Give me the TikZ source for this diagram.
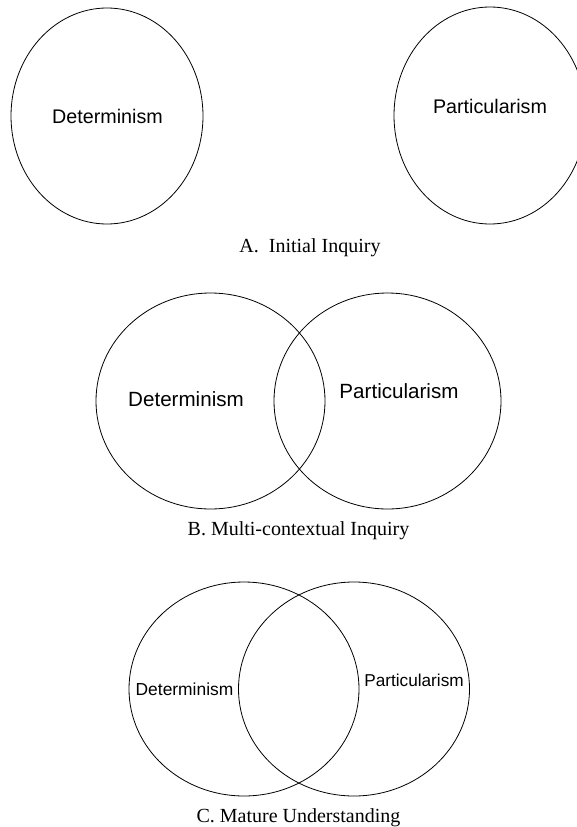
\documentclass[tikz,border=0pt]{standalone}
\usepackage{fontspec}
\setmainfont{Liberation Serif}
\newfontfamily\labelfont{Liberation Sans}
\usetikzlibrary{shapes.geometric}
\tikzset{
  setell/.style={draw=black, line width=0.8pt, ellipse, inner sep=0pt, minimum width=#1},
  lab/.style={anchor=base, inner sep=0pt, font=\labelfont\fontsize{#1}{#1}\selectfont},
  captext/.style={anchor=base, inner sep=0pt, font=\fontsize{20}{24}\selectfont},
}
\begin{document}
\begin{tikzpicture}[x=1pt,y=-1pt]
\useasboundingbox (0,0) rectangle (577,827);
\clip (0,0) rectangle (577,827);
% A. Initial Inquiry
\node[setell=192pt, minimum height=216pt] (aD) at (107,116) {};
\node[setell=192pt, minimum height=217pt] (aP) at (490,115.5) {};
\node[lab=19.7] (aDt) at (107.5,123) {Determinism};
\node[lab=19.7] (aPt) at (490,113) {Particularism};
\node[captext] (aC) at (310,252) {A.\ \ Initial Inquiry};
% B. Multi-contextual Inquiry
\node[setell=229pt, minimum height=216pt] (bD) at (210.5,401) {};
\node[setell=227pt, minimum height=216pt] (bP) at (387.5,401) {};
\node[lab=20.6] (bDt) at (186,406) {Determinism};
\node[lab=20.6] (bPt) at (399,398) {Particularism};
\node[captext] (bC) at (298.5,535) {B. Multi-contextual Inquiry};
% C. Mature Understanding
\node[setell=230pt, minimum height=214pt] (cD) at (244,689) {};
\node[setell=231pt, minimum height=214pt] (cP) at (354,689) {};
\node[lab=17.4] (cDt) at (184.5,695) {Determinism};
\node[lab=17.2] (cPt) at (414,686) {Particularism};
\node[captext] (cC) at (298.5,822) {C. Mature Understanding};
\end{tikzpicture}
\end{document}
